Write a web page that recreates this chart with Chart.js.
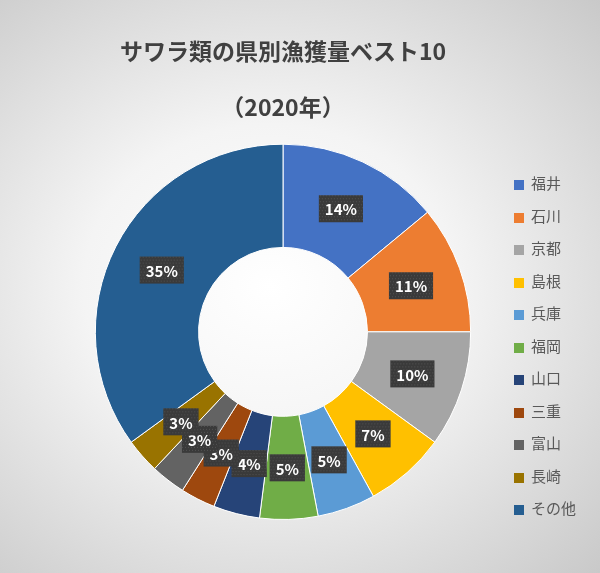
<!DOCTYPE html>
<html><head><meta charset="utf-8">
<script src="https://cdn.jsdelivr.net/npm/chart.js@4"></script>
<style>
html,body{margin:0;padding:0;}
#wrap{width:600px;height:573px;position:relative;background:radial-gradient(ellipse at 45% 50%, #ffffff 0%, #f4f4f4 40%, #c9c9c9 100%);}
#c{position:absolute;left:0;top:0;}
#lg{position:absolute;left:514px;top:168px;font-family:"Noto Sans CJK JP",sans-serif;font-size:15px;color:#595959;}
#lg div{height:32.5px;line-height:30px;white-space:nowrap;}
#lg span{display:inline-block;width:10px;height:10px;margin-right:7px;vertical-align:-1px;}
</style></head><body>
<div id="wrap"><canvas id="c" width="600" height="573"></canvas><div id="lg"></div></div>
<script>
const categories = ['福井','石川','京都','島根','兵庫','福岡','山口','三重','富山','長崎','その他'];
const shares = [14,11,10,7,5,5,4,3,3,3,35];
const titleLines = ['サワラ類の県別漁獲量ベスト10','（2020年）'];
const colors = ['#4472C4','#ED7D31','#A5A5A5','#FFC000','#5B9BD5','#70AD47','#264478','#9E480E','#636363','#997300','#255E91'];
const FONT = '"Noto Sans CJK JP", "Noto Sans", sans-serif';

document.getElementById('lg').innerHTML = categories.map((c,i)=>`<div><span style="background:${colors[i]}"></span>${c}</div>`).join('');

const labelPlugin = {
  id:'lbl',
  afterDatasetsDraw(chart){
    const ctx = chart.ctx;
    const meta = chart.getDatasetMeta(0);
    meta.data.forEach((arc,i)=>{
      const mid = (arc.startAngle+arc.endAngle)/2;
      const r = (arc.innerRadius+arc.outerRadius)/2;
      const x = arc.x + Math.cos(mid)*r, y = arc.y + Math.sin(mid)*r;
      const t = shares[i]+'%';
      ctx.save();
      ctx.font = 'bold 15px ' + FONT;
      const w = ctx.measureText(t).width + 12, h = 27;
      ctx.fillStyle = '#3a3a3a';
      ctx.fillRect(x-w/2, y-h/2, w, h);
      ctx.fillStyle = 'rgba(95,95,95,0.7)';
      for(let yy=y-h/2; yy<y+h/2; yy+=3) for(let xx=x-w/2+((yy|0)%2); xx<x+w/2; xx+=3) ctx.fillRect(xx,yy,1,1);
      ctx.fillStyle = '#fff';
      ctx.textAlign='center'; ctx.textBaseline='middle';
      ctx.fillText(t, x, y+1);
      ctx.restore();
    });
  }
};

new Chart(document.getElementById('c'), {
  type:'doughnut',
  data:{labels:categories, datasets:[{data:shares, backgroundColor:colors, borderColor:'#ffffff', borderWidth:1}]},
  options:{
    responsive:false, animation:false, cutout:'45%',
    layout:{padding:{left:93,right:127,top:0,bottom:53}},
    plugins:{
      tooltip:{enabled:false},
      legend:{display:false},
      title:{display:true, text:titleLines, color:'#404040', font:{family:FONT,size:23,weight:'bold',lineHeight:2.45}, padding:{top:23,bottom:8}}
    }
  },
  plugins:[labelPlugin]
});
</script>
</body></html>
